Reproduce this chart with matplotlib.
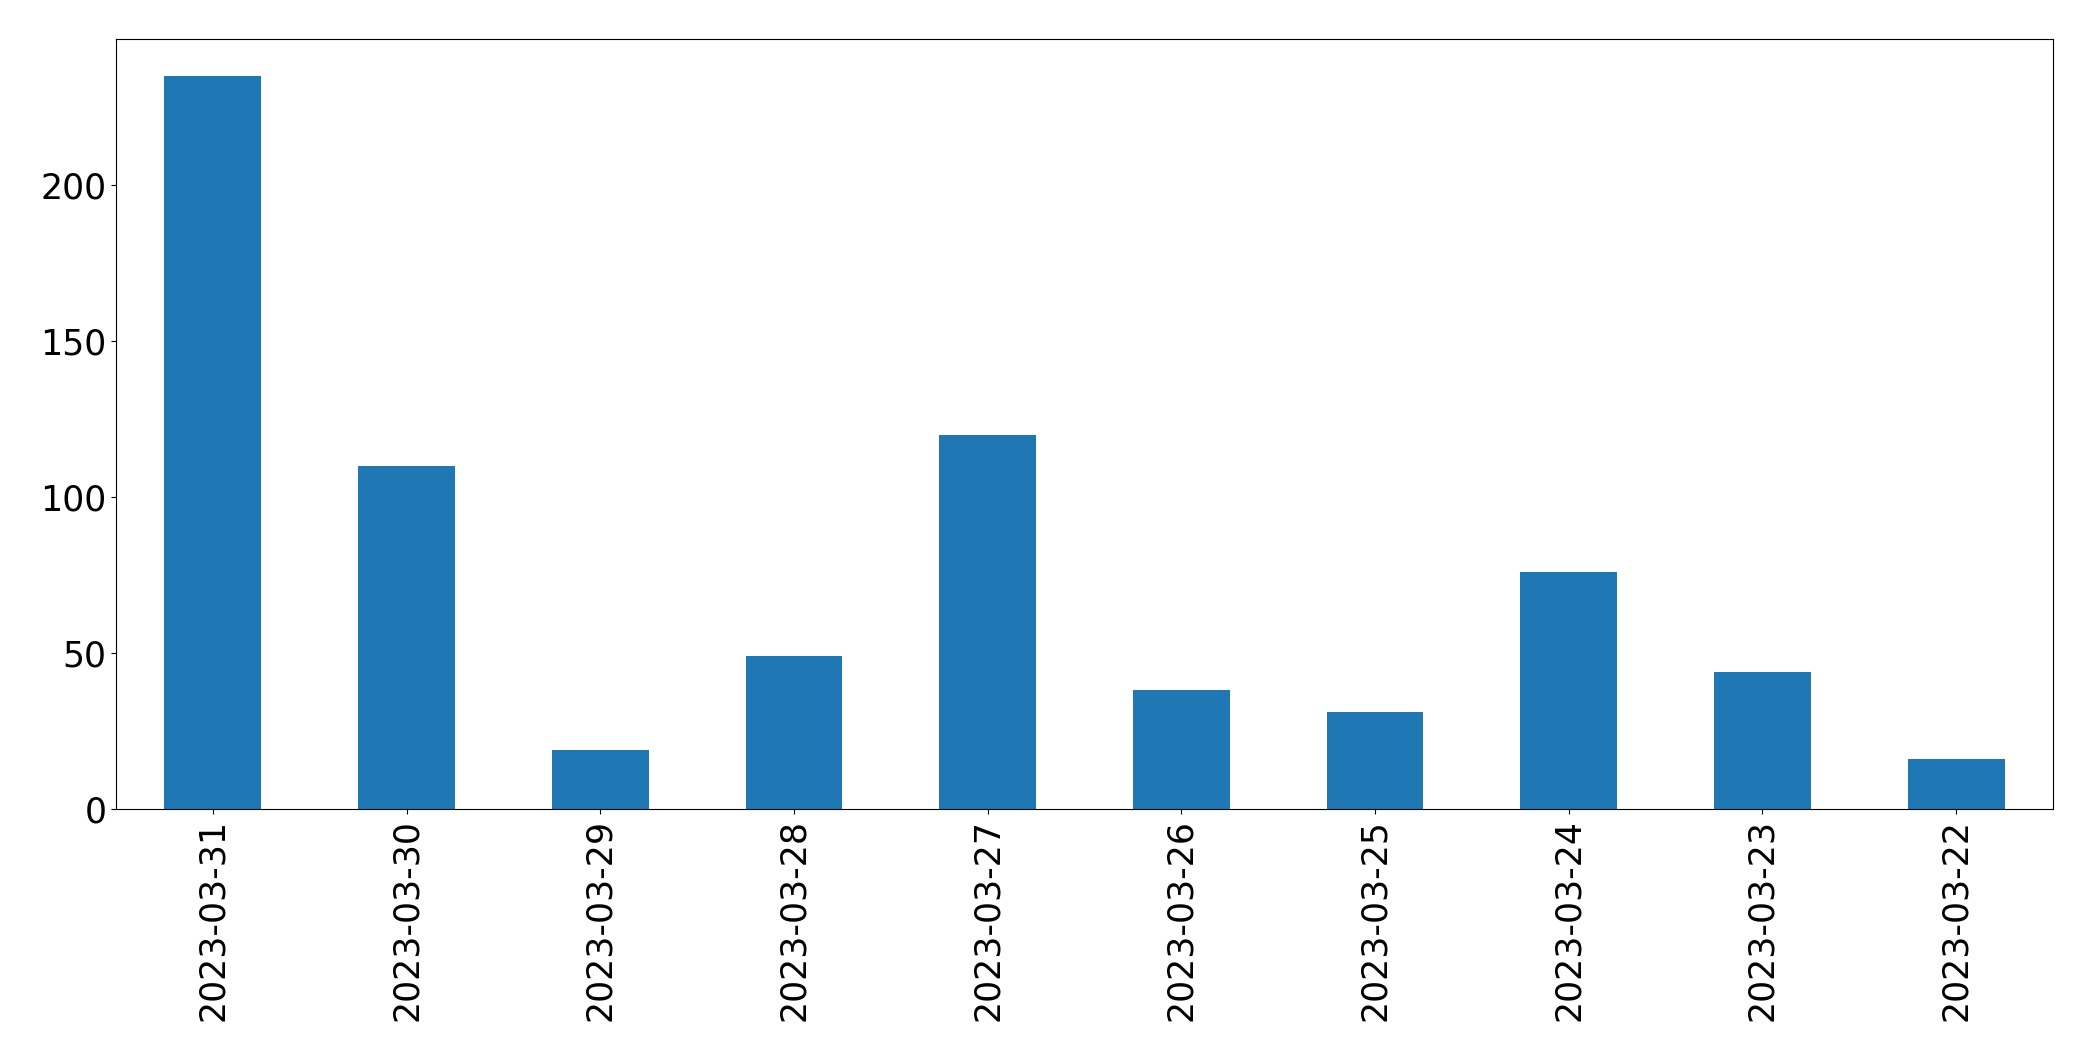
import pandas as pd
import matplotlib
matplotlib.use('Agg')
import matplotlib.pyplot as plt

dates = ['2023-03-31', '2023-03-30', '2023-03-29', '2023-03-28', '2023-03-27',
         '2023-03-26', '2023-03-25', '2023-03-24', '2023-03-23', '2023-03-22']
counts = [235, 110, 19, 49, 120, 38, 31, 76, 44, 16]

fig = plt.figure(figsize=(20.93, 10.61), dpi=100)
ax = fig.add_axes([116 / 2093, (1061 - 809) / 1061, (2053 - 116) / 2093, (809 - 39) / 1061])
s = pd.Series(counts, index=dates)
s.plot.bar(ax=ax, fontsize=25)
fig.savefig('out.png', dpi=100)
